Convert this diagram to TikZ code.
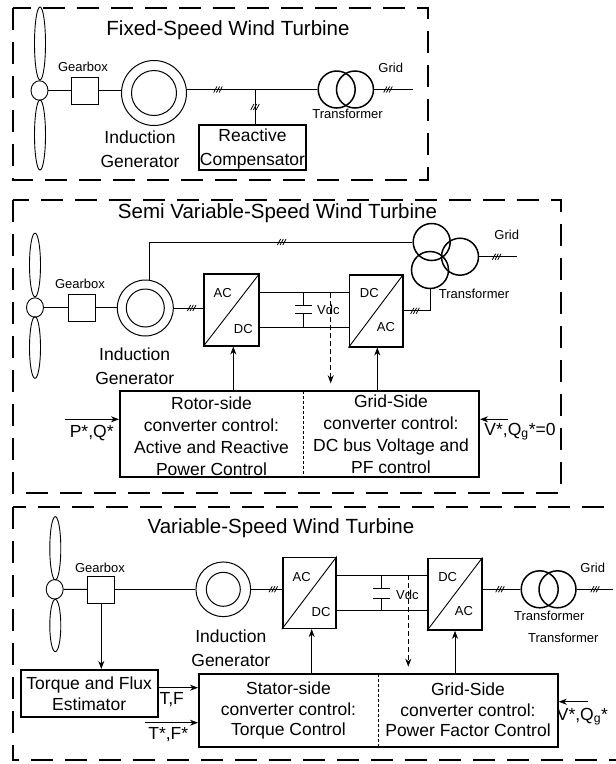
\documentclass[tikz,border=0pt]{standalone}
\usepackage{fontspec}
\setmainfont{Liberation Sans}
\usetikzlibrary{arrows.meta,shapes.geometric}
\tikzset{
 frame/.style={draw, line width=2pt, dash pattern=on 22pt off 12pt},
 ttl/.style={font=\fontsize{20.5}{24}\selectfont, inner sep=0},
 lbl/.style={font=\fontsize{17.5}{23.5}\selectfont, align=center, inner sep=0},
 sml/.style={font=\fontsize{13}{15}\selectfont, inner sep=0},
 hub/.style={draw, ellipse, minimum width=17pt, minimum height=19.5pt, inner sep=0, line width=0.9pt},
 blade/.style={draw, ellipse, minimum width=11pt, inner sep=0, line width=0.9pt},
 gbox/.style={draw, minimum width=27pt, minimum height=27pt, inner sep=0, line width=1pt},
 gen/.style={draw, circle, inner sep=0, line width=1pt},
 trc/.style={draw, circle, minimum size=37pt, inner sep=0, line width=1.5pt},
 conv/.style={draw, rectangle, inner sep=0, line width=1.6pt},
 ctrl/.style={draw, rectangle, inner sep=0, line width=2pt},
 wire/.style={line width=0.9pt},
 arr/.style={wire, -{Stealth[length=8pt,width=6pt,inset=2.5pt]}},
 darr/.style={arr, dash pattern=on 5pt off 3pt},
 divider/.style={line width=0.9pt, dash pattern=on 3pt off 2pt},
 tickmark/.pic={\foreach \d in {-2.7,0,2.7} \draw[line width=0.8pt] (\d-1.6,3) -- (\d+1.6,-3);}
}
\begin{document}
\begin{tikzpicture}[x=1pt,y=-1pt]
\useasboundingbox (0,0) rectangle (616,764);
\fill[white] (0,0) rectangle (616,764);

% ================= Fixed-speed =================
\draw[frame] (13,8) rectangle (428,180);
\node[ttl] (t1) at (228,30) {Fixed-Speed Wind Turbine};
\node[blade, minimum height=73pt] (b1u) at (40,43.5) {};
\node[blade, minimum height=70pt] (b1d) at (40,135) {};
\node[hub] (h1) at (39.5,90.5) {};
\node[gbox] (gb1) at (85,90.5) {};
\node[sml] (gl1) at (83,67) {Gearbox};
\node[gen, minimum size=65pt] (g1) at (154,93) {};
\node[gen, minimum size=45pt] (g1i) at (154,93) {};
\node[lbl, font=\fontsize{17.5}{24}\selectfont] (gn1) at (140,149) {Induction\\Generator};
\node[trc] (tr1a) at (336.7,89.5) {};
\node[trc] (tr1b) at (355,89.5) {};
\node[sml] (tl1) at (347.5,114) {Transformer};
\node[sml] (grl1) at (390.7,68.3) {Grid};
\node[draw, line width=1.2pt, minimum width=107pt, minimum height=45pt, inner sep=0] (rc) at (252.5,147.5) {};
\node[lbl, font=\fontsize{17.5}{24}\selectfont] (rct) at (252.5,149) {Reactive\\Compensator};
\coordinate (j1) at (255,89.5);
\coordinate (grid1) at (413,89.5);
\draw[wire] (h1) -- (gb1);
\draw[wire] (gb1.east) -- (gb1.east -| g1.west);
\draw[wire] (g1.east |- tr1a.west) -- (tr1a.west);
\draw[wire] (j1) -- (j1 |- rc.north);
\draw[wire] (tr1b.east) -- (grid1);
\pic at (218,89.5) {tickmark};
\pic at (255,107) {tickmark};
\pic at (388,89.5) {tickmark};

% ================= Semi variable-speed =================
\draw[frame] (12.7,200) rectangle (561,492.7);
\node[ttl] (t2) at (277.5,213.3) {Semi Variable-Speed Wind Turbine};
\node[blade, minimum height=63.7pt] (b2u) at (35,265) {};
\node[blade, minimum height=61.7pt] (b2d) at (35,347.5) {};
\node[hub] (h2) at (35,307.5) {};
\node[gbox] (gb2) at (82,307.5) {};
\node[sml] (gl2) at (80,284) {Gearbox};
\node[gen, minimum size=56pt] (g2) at (145.3,308) {};
\node[gen, minimum size=38pt] (g2i) at (145.3,308) {};
\node[lbl, font=\fontsize{17.5}{23.7}\selectfont] (gn2) at (134.7,366) {Induction\\Generator};
\draw[wire] (h2) -- (gb2);
\draw[wire] (gb2.east) -- (gb2.east -| g2.west);
\node[conv, minimum width=55pt, minimum height=71.7pt] (c2a) at (231.5,309.85) {};
\draw[wire] (c2a.south west) -- (c2a.north east);
\node[sml] (c2a1) at (222.7,293.3) {AC};
\node[sml] (c2a2) at (243.3,329.3) {DC};
\node[conv, minimum width=53.4pt, minimum height=71.7pt] (c2b) at (376,310.85) {};
\draw[wire] (c2b.south west) -- (c2b.north east);
\node[sml] (c2b1) at (369.3,292.7) {DC};
\node[sml] (c2b2) at (386,326.7) {AC};
\coordinate (d2t) at (300,292.7);
\coordinate (d2b) at (300,327.3);
\draw[wire] (c2a.east |- d2t) -- (c2b.west |- d2t);
\draw[wire] (c2a.east |- d2b) -- (c2b.west |- d2b);
\draw[wire] (303.3,292.7) -- (303.3,305) (295,305) -- (311.7,305)
                (295,313.3) -- (311.7,313.3) (303.3,313.3) -- (303.3,327.3);
\node[sml] (vdc2) at (328.3,310) {Vdc};
\draw[darr] (330.7,292.7) -- (330.7,383.3);
\node[ctrl, minimum width=359pt, minimum height=86.3pt] (k2) at (299.5,434.15) {};
\draw[divider] (303,391) -- (303,477.3);
\node[lbl, font=\fontsize{17.5}{22}\selectfont] (k2l) at (211.5,436.3) {Rotor-side\\converter control:\\Active and Reactive\\Power Control};
\node[lbl, font=\fontsize{17.5}{22}\selectfont] (k2r) at (391,434.7) {Grid-Side\\converter control:\\DC bus Voltage and\\PF control};
\draw[arr] (k2.north -| 233.3,0) -- (c2a.south -| 233.3,0);
\draw[arr] (k2.north -| 377.3,0) -- (c2b.south -| 377.3,0);
\coordinate (pq) at (65,419.3);
\draw[arr] (pq) -- (pq -| k2.west);
\node[lbl] (pql) at (91.7,432.7) {P*,Q*};
\coordinate (vq) at (508.3,419.3);
\draw[arr] (vq) -- (vq -| k2.east);
\node[lbl] (vql) at (520,431.7) {V*,Q\textsubscript{g}*=0};
\node[trc] (tr2a) at (431.7,242) {};
\node[trc] (tr2b) at (460,256.7) {};
\node[trc] (tr2c) at (430,270) {};
\draw[wire] ([xshift=4pt]g2.north) |- (tr2a.west);
\draw[wire] (g2.east) -- (g2.east -| c2a.west);
\coordinate (grid2) at (516.7,256.7);
\draw[wire] (tr2b.east) -- (grid2);
\draw[wire] (tr2c.south) |- (c2b.east);
\pic at (281.7,242) {tickmark};
\pic at (191.7,308) {tickmark};
\pic at (496.7,256.7) {tickmark};
\pic at (415,310.85) {tickmark};
\node[sml] (grl2) at (506.7,235) {Grid};
\node[sml] (tl2) at (474,294.3) {Transformer};

% ================= Variable-speed =================
\draw[frame] (12.7,506.7) rectangle (650,760);
\node[ttl] (t3) at (281,528.3) {Variable-Speed Wind Turbine};
\node[blade, minimum height=63.3pt] (b3u) at (55.3,548.3) {};
\node[blade, minimum height=52.4pt] (b3d) at (55.3,625.5) {};
\node[hub] (h3) at (54.7,589.3) {};
\node[gbox] (gb3) at (101.3,589.5) {};
\node[sml] (gl3) at (100,568.3) {Gearbox};
\node[gen, minimum size=54.7pt] (g3) at (223.3,589.3) {};
\node[gen, minimum size=34pt] (g3i) at (223.3,589.3) {};
\node[lbl, font=\fontsize{17.5}{23.3}\selectfont] (gn3) at (230.8,648.3) {Induction\\Generator};
\node[conv, minimum width=53.3pt, minimum height=71pt] (c3a) at (309.35,592.8) {};
\draw[wire] (c3a.south west) -- (c3a.north east);
\node[sml] (c3a1) at (301.7,576.7) {AC};
\node[sml] (c3a2) at (321,612.3) {DC};
\node[conv, minimum width=54pt, minimum height=71.7pt] (c3b) at (454.7,594.15) {};
\draw[wire] (c3b.south west) -- (c3b.north east);
\node[sml] (c3b1) at (447.7,576.7) {DC};
\node[sml] (c3b2) at (464,611) {AC};
\coordinate (d3t) at (380,575);
\coordinate (d3b) at (380,610.7);
\draw[wire] (c3a.east |- d3t) -- (c3b.west |- d3t);
\draw[wire] (c3a.east |- d3b) -- (c3b.west |- d3b);
\draw[wire] (381.7,575) -- (381.7,588.3) (373.3,588.3) -- (390,588.3)
                (373.3,598.3) -- (390,598.3) (381.7,598.3) -- (381.7,610.7);
\node[sml] (vdc3) at (407.3,595) {Vdc};
\draw[darr] (408.3,575) -- (408.3,666.7);
\node[ctrl, minimum width=358.7pt, minimum height=73.3pt] (k3) at (378.35,710.65) {};
\draw[divider] (378.3,674) -- (378.3,747.3);
\node[lbl, font=\fontsize{17.5}{20.5}\selectfont] (k3l) at (288.5,710.5) {Stator-side\\converter control:\\Torque Control};
\node[lbl, font=\fontsize{17.5}{20.7}\selectfont] (k3r) at (468,710) {Grid-Side\\converter control:\\Power Factor Control};
\draw[arr] (k3.north -| 311.7,0) -- (c3a.south -| 311.7,0);
\draw[arr] (k3.north -| 455,0) -- (c3b.south -| 455,0);
\node[ctrl, minimum width=137pt, minimum height=47.3pt] (est) at (89.2,693.65) {};
\node[lbl, font=\fontsize{17.5}{21.3}\selectfont] (estt) at (89.2,693.8) {Torque and Flux\\Estimator};
\draw[arr] (gb3.south) -- (gb3.south |- est.north);
\coordinate (tf) at (157.7,687.7);
\draw[arr] (est.east |- tf) -- (tf -| k3.west);
\node[lbl] (tfl) at (171.7,700) {T,F};
\coordinate (tfs) at (145,722.7);
\draw[arr] (tfs) -- (tfs -| k3.west);
\node[lbl] (tfsl) at (168.3,735) {T*,F*};
\coordinate (vq3) at (588.3,701.7);
\draw[arr] (vq3) -- (vq3 -| k3.east);
\node[lbl, anchor=west] (vq3l) at (556.7,716.7) {V*,Q\textsubscript{g}*};
\node[trc] (tr3a) at (539.7,589.3) {};
\node[trc] (tr3b) at (557.5,589.3) {};
\draw[wire] (h3) -- (gb3);
\draw[wire] (gb3.east) -- (gb3.east -| g3.west);
\draw[wire] (g3.east) -- (g3.east -| c3a.west);
\draw[wire] (c3b.east |- tr3a.west) -- (tr3a.west);
\coordinate (grid3) at (613.3,589.3);
\draw[wire] (tr3b.east) -- (grid3);
\pic at (273.3,589.3) {tickmark};
\pic at (500,589.3) {tickmark};
\pic at (595,589.3) {tickmark};
\node[sml] (grl3) at (592.7,568.3) {Grid};
\node[sml] (tl3a) at (549.3,616) {Transformer};
\node[sml] (tl3b) at (563.3,638.3) {Transformer};
\end{tikzpicture}
\end{document}
